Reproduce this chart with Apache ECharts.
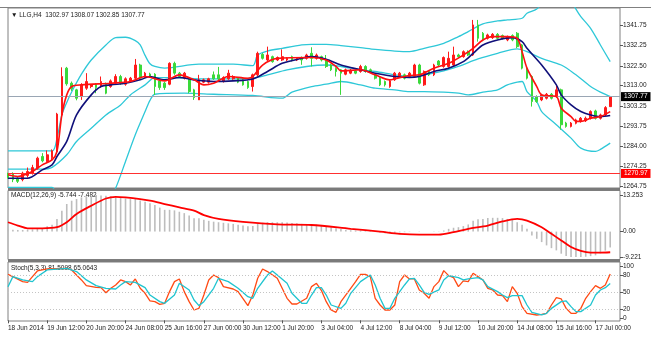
<!DOCTYPE html>
<html>
<head>
<meta charset="utf-8">
<script src="https://cdn.jsdelivr.net/npm/echarts@6.0.0/dist/echarts.min.js"></script>
<style>
  html, body { margin: 0; padding: 0; background: #ffffff; }
  #chart { width: 651px; height: 339px; }
</style>
</head>
<body>
<div id="chart"></div>
<script>
// LLG H4 — candles with Bollinger bands and two moving averages, MACD and Stochastic panes

const tickLabels = ['18 Jun 2014', '19 Jun 12:00', '20 Jun 20:00', '24 Jun 08:00', '25 Jun 16:00',
  '27 Jun 00:00', '30 Jun 12:00', '1 Jul 20:00', '3 Jul 04:00', '4 Jul 12:00', '8 Jul 04:00',
  '9 Jul 12:00', '10 Jul 20:00', '14 Jul 08:00', '15 Jul 16:00', '17 Jul 00:00'];

const priceTicks = [1341.75, 1332.25, 1322.50, 1313.00, 1303.25, 1293.75, 1284.00, 1274.25, 1264.75];
const macdTicks = [13.253, 0, -9.221];
const stochTicks = [100, 80, 50, 20, 0];
const stochLevels = [80, 50, 20];
const lastPrice = 1307.77;
const supportLevel = 1270.97;

const open = [
  1270.7, 1270.7, 1268.7, 1268.0, 1270.0, 1271.1, 1273.5, 1279.1, 1276.7, 1278.5,
  1281.5, 1299.0, 1321.4, 1314.2, 1311.0, 1307.8, 1311.8, 1312.6, 1313.7, 1312.6,
  1313.7, 1312.6, 1314.2, 1317.4, 1313.7, 1315.3, 1316.6, 1322.9, 1317.4, 1318.6,
  1318.5, 1315.3, 1314.2, 1313.7, 1323.7, 1319.0, 1316.6, 1316.3, 1311.0, 1306.2,
  1314.7, 1314.7, 1318.2, 1318.2, 1315.0, 1316.3, 1316.3, 1316.6, 1315.8, 1315.0,
  1312.6, 1318.2, 1328.0, 1325.3, 1326.9, 1325.3, 1325.3, 1325.3, 1326.9, 1325.3,
  1326.5, 1326.1, 1328.5, 1326.1, 1326.9, 1325.3, 1322.9, 1321.3, 1320.6, 1318.5,
  1319.0, 1320.1, 1319.8, 1322.2, 1320.6, 1318.2, 1316.6, 1315.0, 1312.6, 1315.8,
  1317.4, 1318.2, 1317.4, 1317.4, 1322.9, 1313.4, 1319.8, 1318.2, 1324.8, 1322.2,
  1322.2, 1322.9, 1327.7, 1326.9, 1329.3, 1327.7, 1342.1, 1338.1, 1335.7, 1336.0,
  1337.6, 1337.0, 1334.9, 1337.0, 1338.1, 1332.5, 1321.4, 1317.4, 1307.8, 1306.2,
  1307.0, 1308.9, 1307.8, 1311.0, 1295.1, 1293.5, 1295.0, 1295.9, 1296.2, 1297.4,
  1300.9, 1297.4, 1299.0, 1302.97];
const high = [
  1271.3, 1271.5, 1269.3, 1271.8, 1273.8, 1275.1, 1279.0, 1280.7, 1282.0, 1282.5,
  1300.0, 1321.8, 1322.0, 1315.0, 1311.5, 1314.2, 1319.0, 1313.8, 1314.2, 1317.4,
  1314.5, 1316.0, 1318.5, 1318.2, 1317.0, 1317.2, 1325.8, 1323.5, 1319.6, 1319.2,
  1319.0, 1316.0, 1314.8, 1324.2, 1324.5, 1319.6, 1319.6, 1316.8, 1311.5, 1318.2,
  1316.4, 1316.8, 1319.8, 1322.0, 1317.5, 1320.6, 1318.0, 1317.0, 1316.3, 1315.5,
  1318.8, 1329.3, 1328.6, 1331.7, 1327.4, 1327.0, 1330.4, 1326.6, 1327.4, 1326.6,
  1327.0, 1328.3, 1331.4, 1328.4, 1327.4, 1327.7, 1323.5, 1321.8, 1321.0, 1321.2,
  1321.0, 1320.6, 1323.0, 1322.8, 1321.2, 1318.8, 1317.2, 1315.5, 1316.0, 1319.6,
  1319.6, 1318.8, 1319.6, 1323.5, 1323.5, 1320.3, 1320.3, 1323.5, 1325.3, 1327.0,
  1329.3, 1331.7, 1328.3, 1329.9, 1329.9, 1344.5, 1344.5, 1338.7, 1337.9, 1338.2,
  1338.2, 1337.5, 1337.0, 1337.6, 1338.7, 1333.0, 1322.0, 1318.0, 1308.4, 1309.2,
  1309.5, 1309.5, 1313.4, 1311.6, 1295.7, 1295.6, 1297.2, 1298.0, 1298.2, 1301.2,
  1301.5, 1299.6, 1303.2, 1308.07];
const low = [
  1268.5, 1266.8, 1266.4, 1267.2, 1269.0, 1270.4, 1272.8, 1276.3, 1276.0, 1277.0,
  1281.0, 1298.5, 1313.0, 1310.5, 1306.0, 1306.2, 1311.0, 1311.8, 1309.4, 1312.0,
  1308.9, 1312.0, 1313.6, 1313.4, 1313.0, 1314.6, 1315.8, 1315.8, 1316.8, 1316.8,
  1308.6, 1311.0, 1311.0, 1313.2, 1318.2, 1316.8, 1316.0, 1309.4, 1306.2, 1306.2,
  1314.2, 1314.0, 1315.8, 1315.0, 1314.5, 1315.8, 1315.8, 1314.2, 1313.0, 1311.5,
  1310.2, 1317.6, 1325.5, 1324.8, 1324.0, 1324.8, 1324.8, 1324.8, 1324.6, 1324.8,
  1323.0, 1325.5, 1322.2, 1325.5, 1324.6, 1321.5, 1320.0, 1317.4, 1308.6, 1318.0,
  1318.5, 1318.5, 1319.2, 1319.2, 1319.2, 1316.0, 1312.8, 1312.6, 1312.0, 1315.3,
  1316.9, 1316.0, 1316.9, 1316.9, 1313.6, 1312.9, 1317.6, 1317.6, 1322.2, 1321.6,
  1321.6, 1322.2, 1326.4, 1326.4, 1327.2, 1327.2, 1334.1, 1334.3, 1335.1, 1335.4,
  1335.1, 1335.1, 1334.3, 1334.3, 1331.0, 1320.8, 1316.0, 1303.0, 1304.8, 1305.6,
  1306.4, 1306.4, 1307.2, 1291.9, 1292.9, 1293.0, 1294.5, 1295.3, 1295.6, 1296.8,
  1296.8, 1296.8, 1298.4, 1302.85];
const close = [
  1269.1, 1268.0, 1267.2, 1271.1, 1271.9, 1273.8, 1278.3, 1277.0, 1279.9, 1281.8,
  1299.4, 1317.4, 1313.9, 1311.5, 1307.0, 1313.4, 1315.0, 1313.4, 1312.1, 1315.0,
  1309.4, 1315.3, 1317.4, 1314.2, 1316.3, 1316.6, 1322.9, 1316.6, 1319.0, 1317.4,
  1312.6, 1312.1, 1312.1, 1323.7, 1319.0, 1317.4, 1319.0, 1310.2, 1307.3, 1315.8,
  1315.8, 1316.3, 1316.3, 1316.3, 1316.9, 1319.0, 1317.4, 1314.7, 1313.4, 1312.1,
  1318.2, 1328.5, 1326.1, 1327.7, 1324.5, 1326.5, 1326.9, 1326.1, 1325.3, 1326.1,
  1325.3, 1327.7, 1326.1, 1327.7, 1325.3, 1322.2, 1320.6, 1319.8, 1319.0, 1320.6,
  1320.4, 1319.0, 1322.2, 1319.8, 1319.8, 1316.6, 1313.4, 1313.4, 1315.3, 1319.0,
  1319.0, 1316.6, 1319.0, 1322.9, 1314.2, 1319.8, 1318.2, 1322.9, 1322.9, 1326.5,
  1326.1, 1327.7, 1326.9, 1329.3, 1327.7, 1342.1, 1335.7, 1334.9, 1337.3, 1337.6,
  1335.7, 1335.7, 1336.5, 1334.9, 1331.7, 1321.4, 1316.6, 1305.4, 1305.4, 1308.6,
  1308.9, 1307.0, 1311.0, 1294.3, 1293.5, 1295.1, 1296.6, 1297.4, 1297.4, 1300.6,
  1297.4, 1299.0, 1302.5, 1307.77];

// Indicator lines, [bar index, value]
const maFast = [[0,1270.3],[2,1269.5],[5,1271.9],[7,1275.1],[9,1277.5],[10,1281.5],[11,1299.0],[12,1308.6],
  [13,1312.6],[15,1313.4],[21,1314.2],[25,1315.0],[28,1317.4],[32,1315.3],[35,1318.2],[38,1315.8],
  [40,1313.4],[42,1314.2],[45,1317.4],[49,1316.6],[50,1317.4],[52,1322.9],[55,1326.1],[62,1326.5],
  [65,1325.3],[67,1322.2],[68,1320.1],[72,1320.6],[75,1318.2],[78,1315.8],[79,1316.3],[82,1317.9],
  [84,1318.2],[87,1321.4],[90,1323.7],[93,1327.7],[95,1330.9],[97,1334.9],[99,1336.5],[102,1336.5],
  [104,1335.7],[105,1329.3],[106,1321.4],[108,1312.6],[109,1308.6],[112,1307.8],[113,1302.2],
  [115,1298.2],[116,1295.9],[117,1295.9],[119,1297.4],[121,1298.2],[123,1300.6]];
const maSlow = [[0,1268.7],[4,1268.7],[7,1272.7],[9,1275.1],[10,1279.1],[12,1286.3],[14,1299.0],[17,1308.6],
  [19,1312.6],[21,1313.4],[24,1314.2],[27,1315.8],[29,1317.4],[32,1315.8],[35,1316.9],[38,1315.8],
  [42,1315.0],[46,1315.3],[50,1316.2],[53,1319.8],[56,1323.7],[60,1326.1],[62,1326.9],[65,1325.7],
  [68,1322.9],[72,1320.6],[75,1319.0],[79,1317.4],[82,1316.9],[84,1317.4],[87,1319.8],[90,1321.4],
  [93,1324.5],[95,1328.5],[97,1332.5],[100,1334.9],[103,1336.0],[105,1334.1],[106,1330.9],[109,1322.9],
  [112,1313.4],[113,1308.6],[115,1303.8],[117,1300.6],[119,1299.0],[121,1298.2],[123,1298.7]];
const bbUpper = [[0,1281.8],[9,1281.8],[10,1287.9],[11,1299.0],[12,1305.0],[13,1310.0],[15,1318.5],[17,1325.3],
  [20,1332.5],[22,1336.0],[24,1336.2],[26,1334.6],[27,1332.5],[28,1327.5],[29,1323.5],[30,1322.2],
  [32,1321.4],[39,1323.3],[46,1323.3],[50,1322.6],[51,1327.7],[53,1329.6],[56,1330.9],[60,1332.5],
  [62,1332.8],[65,1332.8],[68,1332.2],[72,1331.2],[75,1330.4],[79,1329.6],[82,1329.3],[85,1330.9],
  [89,1333.3],[92,1336.5],[94,1338.9],[97,1342.6],[100,1344.0],[102,1344.5],[105,1345.3],[106,1347.7],
  [108,1349.7],[110,1355.0],[112,1358.0],[114,1357.0],[115,1354.0],[116,1349.7],[117,1346.1],
  [119,1340.5],[121,1332.5],[123,1324.5]];
const bbMiddle = [[0,1273.0],[7,1273.0],[9,1273.9],[12,1279.9],[14,1286.3],[17,1292.6],[20,1299.0],[23,1303.8],
  [25,1308.6],[28,1313.4],[30,1316.9],[34,1316.9],[39,1316.3],[46,1316.3],[50,1316.6],[53,1318.2],
  [57,1320.6],[61,1322.2],[65,1322.9],[68,1322.2],[72,1320.6],[75,1319.8],[79,1318.2],[82,1317.4],
  [85,1318.2],[89,1320.1],[92,1322.2],[96,1325.8],[100,1328.5],[104,1330.6],[106,1329.3],[109,1326.1],
  [113,1322.9],[116,1318.2],[119,1312.6],[121,1309.9],[123,1307.8]];
const bbLower = [[0,1264.3],[9,1264.3],[10,1259.0],[12,1252.0],[15,1247.0],[18,1248.0],[20,1255.0],[22,1264.0],
  [24,1276.7],[26,1289.5],[28,1300.6],[29,1306.0],[30,1308.9],[36,1309.4],[42,1308.9],[50,1308.3],
  [56,1307.0],[58,1309.9],[62,1312.6],[65,1313.7],[68,1315.0],[72,1313.4],[75,1311.8],[79,1311.0],
  [82,1310.2],[85,1310.2],[89,1309.9],[92,1309.4],[94,1308.6],[97,1309.9],[100,1311.0],[102,1313.4],
  [104,1314.7],[105,1315.0],[106,1310.2],[108,1305.4],[109,1300.6],[112,1294.3],[115,1287.9],
  [117,1283.1],[120,1281.5],[121,1282.5],[123,1285.5]];

const macdHist = [
  0.7, 0.7, 0.6, 0.6, 0.7, 0.8, 1.0, 1.2, 1.9, 2.5,
  4.6, 7.6, 10.0, 11.2, 11.8, 12.4, 12.8, 13.0, 13.253, 13.1,
  13.0, 12.8, 12.5, 12.3, 12.0, 11.8, 11.8, 11.3, 10.8, 10.3,
  9.6, 8.7, 7.9, 7.9, 7.7, 7.2, 6.7, 5.8, 4.8, 4.8,
  4.3, 3.9, 3.6, 3.4, 3.2, 3.0, 2.8, 2.5, 2.2, 1.9,
  2.0, 2.8, 3.2, 3.4, 3.4, 3.4, 3.4, 3.3, 3.1, 3.0,
  2.8, 2.7, 2.6, 2.5, 2.3, 2.0, 1.6, 1.2, 0.9, 0.7,
  0.5, 0.4, 0.4, 0.3, 0.2, 0.0, -0.3, -0.6, -0.6, -0.4,
  -0.3, -0.2, -0.1, 0.0, 0.1, 0.0, 0.0, 0.1, 0.1, 0.4,
  1.0, 1.4, 1.6, 2.0, 2.6, 3.9, 4.5, 4.6, 4.9, 5.0,
  5.0, 4.9, 4.6, 4.2, 3.4, 2.5, 1.0, -1.4, -2.6, -3.8,
  -5.0, -6.0, -6.8, -8.0, -8.8, -9.221, -9.2, -9.2, -9.1, -8.9,
  -8.6, -7.9, -6.9, -5.744];
const macdSignal = [[0,3.4],[2,2.2],[4,1.2],[7,1.2],[10,1.6],[12,3.4],[14,6.4],[17,9.4],[20,12.0],[22,12.6],
  [24,12.4],[27,11.8],[29,11.2],[32,10.0],[35,8.8],[38,7.6],[40,6.0],[43,4.6],[48,3.5],[55,2.6],[62,2.4],
  [70,1.0],[76,0.0],[80,-0.8],[84,-1.1],[88,-1.1],[91,-0.2],[94,1.0],[98,2.2],[101,3.7],[104,4.6],
  [106,4.0],[109,1.6],[111,-0.8],[113,-3.2],[115,-5.6],[117,-7.0],[119,-7.6],[121,-7.6],[123,-7.482]];

const stochMain = [[0,81.1],[1,77.0],[3,68.2],[4,67.0],[5,77.0],[6,87.0],[8,90.5],[12,91.7],[13,88.8],[14,79.9],
  [15,71.2],[16,61.1],[18,58.2],[19,57.6],[20,48.7],[21,56.4],[22,62.3],[23,71.2],[24,68.2],[25,62.3],
  [26,72.9],[27,56.4],[28,47.6],[29,34.1],[30,32.9],[31,28.2],[32,30.0],[33,50.6],[34,68.2],[35,72.9],
  [36,50.6],[37,32.9],[38,18.2],[39,21.1],[40,44.6],[41,71.2],[42,79.9],[43,75.3],[44,59.4],[46,55.2],
  [47,50.6],[49,25.9],[50,44.6],[51,74.1],[52,90.5],[53,85.9],[55,74.1],[56,56.4],[57,38.8],[58,28.8],
  [59,28.8],[61,38.8],[62,59.4],[63,65.2],[64,52.9],[65,32.9],[66,18.2],[67,14.1],[68,32.9],[70,56.4],
  [71,68.2],[72,81.1],[73,81.1],[74,77.0],[75,38.8],[76,27.0],[77,18.2],[78,18.2],[79,27.0],[80,68.2],
  [81,79.9],[82,72.9],[83,72.9],[84,53.5],[85,47.6],[86,38.8],[87,59.4],[88,68.2],[89,87.6],[90,78.7],
  [91,75.3],[92,59.4],[93,69.4],[94,68.2],[95,82.9],[96,77.0],[97,71.2],[98,56.4],[99,53.5],[100,44.6],
  [101,43.5],[102,32.9],[103,59.4],[104,47.6],[105,24.1],[106,12.4],[108,9.4],[109,10.5],[110,12.4],
  [111,27.0],[112,40.0],[113,37.6],[114,21.1],[115,12.4],[116,12.4],[117,21.1],[118,38.8],[119,50.6],
  [120,61.1],[121,56.4],[122,62.3],[123,81.5098]];
const stochSignal = [[0,59.3],[1,77.0],[3,71.2],[5,68.2],[6,77.0],[8,88.8],[12,91.7],[14,85.9],[16,71.2],
  [18,61.1],[20,56.4],[22,55.2],[23,62.3],[24,68.2],[26,67.0],[28,57.6],[29,44.6],[31,32.9],[32,30.0],
  [34,44.6],[35,65.2],[37,53.5],[38,35.9],[39,25.9],[40,32.9],[42,56.4],[43,74.1],[45,68.2],[47,56.4],
  [49,41.7],[50,38.8],[51,56.4],[53,79.9],[54,87.0],[55,79.9],[57,65.2],[58,47.6],[60,30.0],[61,30.0],
  [62,44.6],[63,57.6],[64,57.5],[65,44.6],[66,27.0],[68,21.1],[69,30.0],[70,47.6],[72,68.2],[74,79.9],
  [75,62.3],[76,38.8],[77,21.1],[78,21.1],[79,38.8],[81,62.3],[82,72.9],[83,74.1],[84,62.3],[85,49.4],
  [86,45.8],[88,53.5],[89,71.2],[90,78.7],[92,75.3],[93,71.2],[94,72.9],[96,75.3],[97,71.2],[98,59.4],
  [100,50.6],[101,44.6],[102,40.0],[103,43.5],[105,43.5],[106,27.0],[107,14.1],[109,9.4],[110,12.4],
  [111,21.1],[113,32.9],[114,34.1],[115,24.1],[116,15.3],[117,15.3],[119,27.0],[120,44.6],[121,53.5],
  [122,57.6],[123,65.0643]];

// Category axis: one slot per bar plus empty space on the right, a time label every 8 bars
const barCount = open.length;
const slotCount = barCount + 2;
const categories = [];
for (let i = 0; i < slotCount; i++) {
  categories.push(i % 8 === 0 && i / 8 < tickLabels.length ? tickLabels[i / 8] : '');
}
const candles = open.map((o, i) => [o, close[i], low[i], high[i]]);

const FONT = "'Liberation Sans',Arial,sans-serif";
const FS = 6.5;
const TXT = '#1a1a1a';
const FRAME = '#808080';
const GRID_L = 8, GRID_R = 31;
const PLOT_W = 651 - GRID_L - GRID_R;

// Pane layout (pixels) and the value range each pane spans
const PANE = {
  main:  { top: 8,     height: 180,  min: 1264.0, max: 1350.21 },
  macd:  { top: 190.5, height: 69,   min: -10.11, max: 14.90 },
  stoch: { top: 262,   height: 59,   min: -1.2,   max: 102.8 }
};
// Stochastic end labels sit just inside the pane, as the terminal draws them
const stochLabelPos = { 100: 95.2, 0: 4.1 };
const stochLabelVals = stochTicks.map(v => (v in stochLabelPos ? stochLabelPos[v] : v));

function xAxisFor(gridIndex, showLabels) {
  return {
    type: 'category', gridIndex, data: categories, boundaryGap: false,
    axisLine: { show: false },
    axisTick: showLabels ? { show: true, length: 3, inside: false, lineStyle: { color: '#555' },
      interval: (i, v) => v !== '' } : { show: false },
    axisLabel: showLabels ? { show: true, interval: (i, v) => v !== '', align: 'left',
      fontSize: FS, fontFamily: FONT, color: TXT, margin: 4 } : { show: false },
    splitLine: { show: false }
  };
}

function yAxisFor(gridIndex, pane, ticks, labelVals, fmt) {
  return {
    type: 'value', gridIndex, position: 'right', min: pane.min, max: pane.max,
    axisLine: { show: false },
    axisTick: { show: true, length: 3, lineStyle: { color: '#555' }, customValues: labelVals },
    axisLabel: { show: true, customValues: labelVals, formatter: fmt, fontSize: FS, fontFamily: FONT,
      color: TXT, margin: 3 },
    splitLine: { show: false }
  };
}

function gridFor(pane) {
  return { left: GRID_L, right: GRID_R, top: pane.top, height: pane.height, show: true,
    borderColor: FRAME, borderWidth: 1, backgroundColor: '#fff' };
}

const lineBase = { type: 'line', showSymbol: false, symbol: 'none', animation: false, silent: true, z: 3 };

const option = {
  animation: false,
  backgroundColor: '#ffffff',
  grid: [gridFor(PANE.main), gridFor(PANE.macd), gridFor(PANE.stoch)],
  xAxis: [xAxisFor(0, false), xAxisFor(1, false), xAxisFor(2, true)],
  yAxis: [
    yAxisFor(0, PANE.main, priceTicks, priceTicks, v => v.toFixed(2)),
    yAxisFor(1, PANE.macd, macdTicks, macdTicks, v => (v === 0 ? '0.00' : v.toFixed(3))),
    yAxisFor(2, PANE.stoch, stochTicks, stochLabelVals, v => {
      const idx = stochLabelVals.indexOf(v);
      return idx >= 0 ? String(stochTicks[idx]) : String(v);
    })
  ],
  series: [
    {
      type: 'candlestick', xAxisIndex: 0, yAxisIndex: 0, data: candles, barWidth: 2.2, z: 4,
      itemStyle: { color: '#ff1a1a', color0: '#3ad93a', borderColor: '#ff1a1a', borderColor0: '#3ad93a', borderWidth: 1 },
      markLine: {
        silent: true, symbol: 'none', animation: false,
        data: [
          { yAxis: lastPrice, lineStyle: { color: '#9aa6b4', width: 1, type: 'solid' },
            label: { show: true, position: 'end', distance: 1, formatter: lastPrice.toFixed(2),
              backgroundColor: '#000', color: '#fff', fontSize: FS, fontFamily: FONT, padding: [1, 3, 1, 3] } },
          { yAxis: supportLevel, lineStyle: { color: '#ff3030', width: 1, type: 'solid' },
            label: { show: true, position: 'end', distance: 1, formatter: supportLevel.toFixed(2),
              backgroundColor: '#ff0000', color: '#fff', fontSize: FS, fontFamily: FONT, padding: [1, 3, 1, 3] } }
        ]
      }
    },
    Object.assign({}, lineBase, { data: bbUpper, xAxisIndex: 0, yAxisIndex: 0, smooth: 0.3, lineStyle: { color: '#2ec8d8', width: 1.3 } }),
    Object.assign({}, lineBase, { data: bbMiddle, xAxisIndex: 0, yAxisIndex: 0, smooth: 0.3, lineStyle: { color: '#2ec8d8', width: 1.3 } }),
    Object.assign({}, lineBase, { data: bbLower, xAxisIndex: 0, yAxisIndex: 0, smooth: 0.3, lineStyle: { color: '#2ec8d8', width: 1.3 } }),
    Object.assign({}, lineBase, { data: maSlow, xAxisIndex: 0, yAxisIndex: 0, smooth: 0.3, z: 5, lineStyle: { color: '#10107a', width: 1.6 } }),
    Object.assign({}, lineBase, { data: maFast, xAxisIndex: 0, yAxisIndex: 0, smooth: 0.3, z: 6, lineStyle: { color: '#ff1010', width: 1.6 } }),
    {
      type: 'bar', xAxisIndex: 1, yAxisIndex: 1, data: macdHist, barWidth: 1.6, silent: true,
      itemStyle: { color: '#bdbdbd' }
    },
    Object.assign({}, lineBase, { data: macdSignal, xAxisIndex: 1, yAxisIndex: 1, smooth: 0.3, lineStyle: { color: '#ff0000', width: 1.8 } }),
    Object.assign({}, lineBase, {
      data: stochMain, xAxisIndex: 2, yAxisIndex: 2, lineStyle: { color: '#ff4a14', width: 1.3 },
      markLine: { silent: true, symbol: 'none', animation: false, label: { show: false },
        lineStyle: { color: '#c4c4c4', width: 1, type: [1, 2] },
        data: stochLevels.map(v => ({ yAxis: v })) }
    }),
    Object.assign({}, lineBase, { data: stochSignal, xAxisIndex: 2, yAxisIndex: 2, lineStyle: { color: '#1fc4cf', width: 1.3 } })
  ],
  graphic: [
    // top edge of the chart window and the thick dividers between panes
    { type: 'rect', shape: { x: 0, y: 7, width: 651, height: 1 }, style: { fill: FRAME }, silent: true },
    { type: 'rect', shape: { x: GRID_L, y: 188, width: PLOT_W, height: 2.5 }, style: { fill: '#7a7a7a' }, silent: true },
    { type: 'rect', shape: { x: GRID_L, y: 259.5, width: PLOT_W, height: 2.5 }, style: { fill: '#7a7a7a' }, silent: true },
    { type: 'text', left: 11, top: 12, style: { text: '\u25BC LLG,H4  1302.97 1308.07 1302.85 1307.77',
      font: FS + 'px ' + FONT, fill: TXT } },
    { type: 'text', left: 11, top: 192, style: { text: 'MACD(12,26,9) -5.744 -7.482', font: FS + 'px ' + FONT, fill: TXT } },
    { type: 'text', left: 11, top: 264.5, style: { text: 'Stoch(5,3,3) 81.5098 65.0643', font: FS + 'px ' + FONT, fill: TXT } }
  ]
};

const chart = echarts.init(document.getElementById('chart'), null, { renderer: 'canvas' });
chart.setOption(option);
</script>
</body>
</html>
